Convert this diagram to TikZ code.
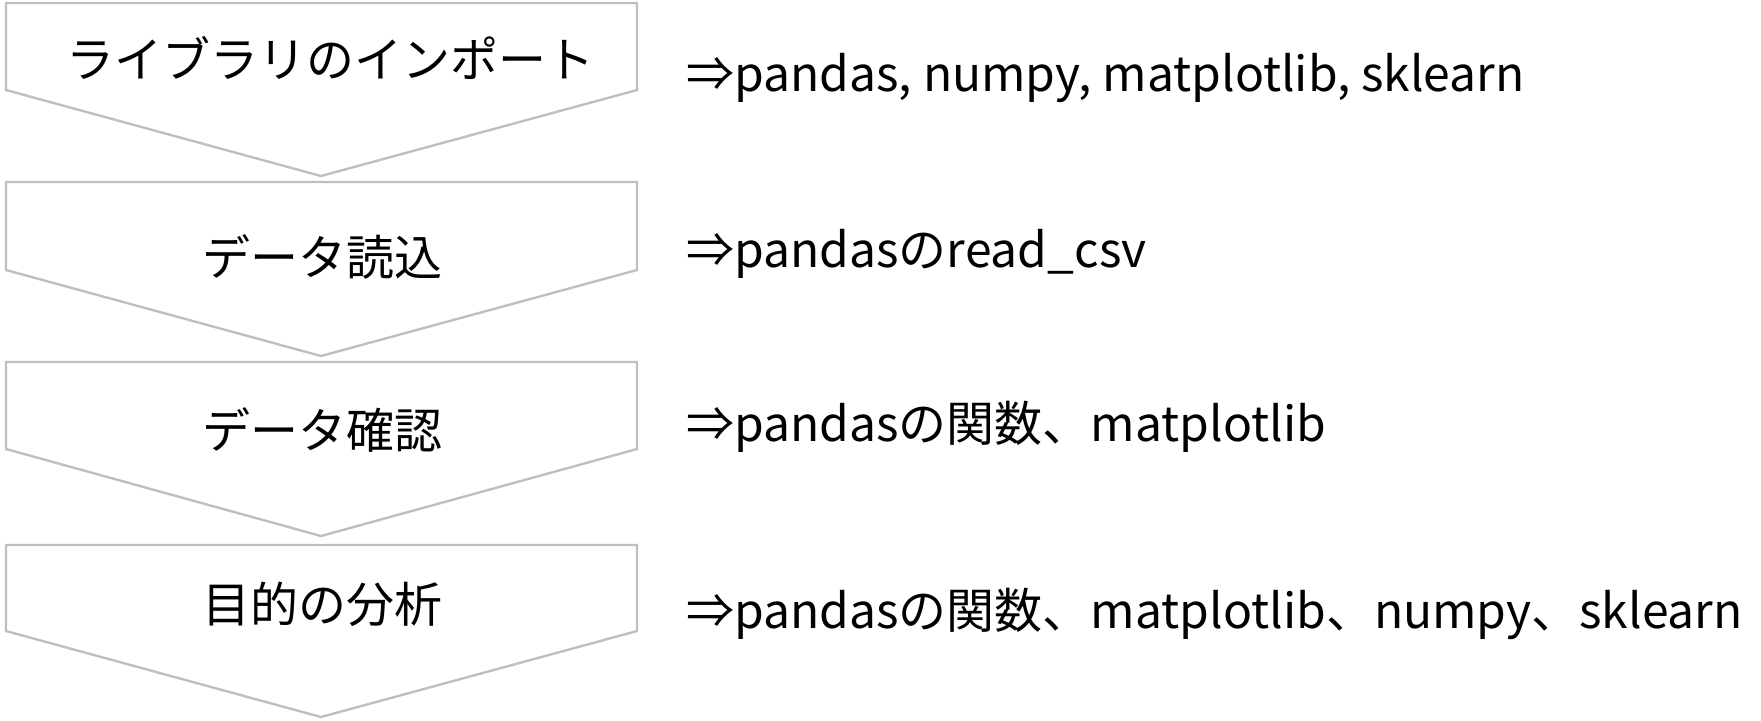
\documentclass[tikz,border=0pt]{standalone}
\usepackage{fontspec}
\setmainfont{Noto Sans CJK JP}
\usetikzlibrary{positioning}
\definecolor{Frame}{HTML}{BFBFBF}
\tikzset{
  chevron/.style={draw=Frame, line width=1.2pt},
  steplabel/.style={font=\fontsize{24}{28}\selectfont, inner sep=0pt},
  toollabel/.style={font=\fontsize{24}{28}\selectfont, anchor=west, inner sep=0pt},
}

\begin{document}
\begin{tikzpicture}[x=0.5pt,y=-0.5pt]
  \useasboundingbox (0,0) rectangle (1761,720);
  % down-pointing step shapes
  \foreach \top/\side/\tip in {3/90/176, 182/270/356, 362/449/536, 545/631/717}
    \draw[chevron] (6,\top) -- (637,\top) -- (637,\side) -- (321,\tip)
      -- (6,\side) -- cycle;
  % steps
  \node[steplabel] (import) at (330,58) {ライブラリのインポート};
  \node[steplabel] (load) at (322,257) {データ読込};
  \node[steplabel] (check) at (322,430) {データ確認};
  \node[steplabel] (analyse) at (322,604) {目的の分析};
  % tools used in each step
  \node[toollabel] (importtools) at (686,78) {⇒pandas, numpy, matplotlib, sklearn};
  \node[toollabel] (loadtools) at (686,254) {⇒pandasのread\_csv};
  \node[toollabel] (checktools) at (686,427) {⇒pandasの関数、matplotlib};
  \node[toollabel] (analysetools) at (686,614) {⇒pandasの関数、matplotlib、numpy、sklearn};
\end{tikzpicture}
\end{document}
